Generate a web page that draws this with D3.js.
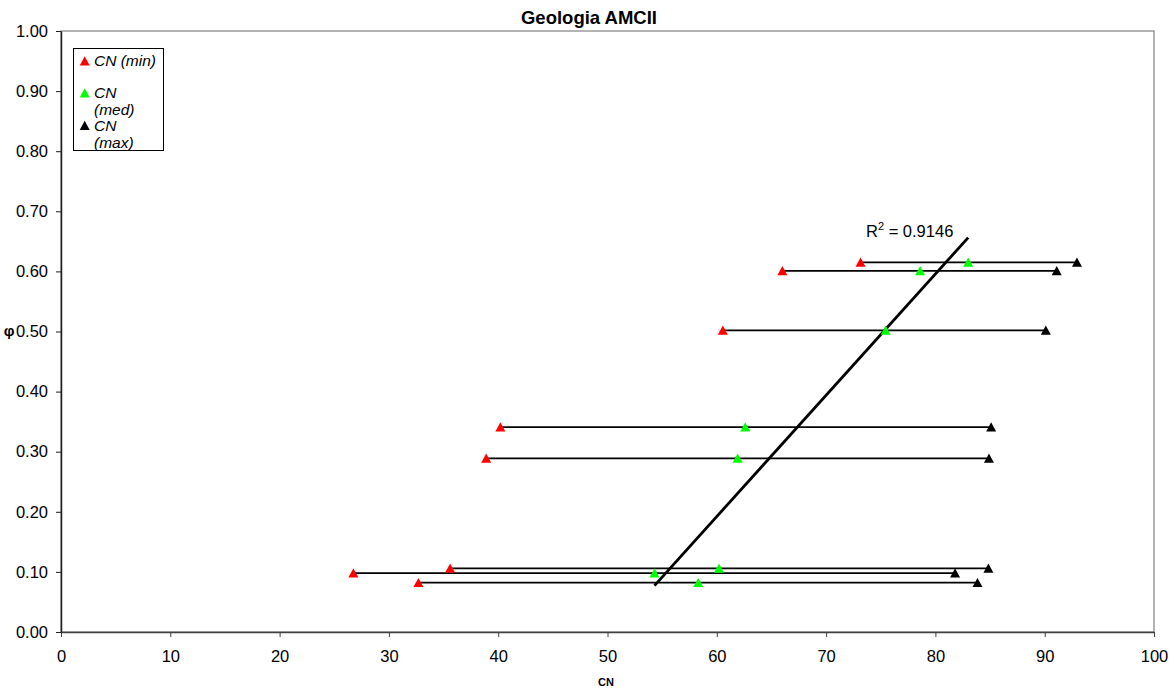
<!DOCTYPE html>
<html lang="en">
<head>
<meta charset="UTF-8">
<title>Geologia AMCII</title>
<script src="https://cdn.jsdelivr.net/npm/d3@7"></script>
<style>
  body { margin: 0; background: #fff; }
  svg { width: 1175px; height: 693px; font-family: "Liberation Sans", Arial, sans-serif; }
</style>
</head>
<body>
<svg></svg>
<script>
// data
var phi    = [0.615, 0.601, 0.502, 0.341, 0.289, 0.106, 0.098, 0.082];
var cnMin  = [73.15, 66.0, 60.55, 40.2, 38.9, 35.6, 26.75, 32.7];
var cnMed  = [83.0, 78.6, 75.45, 62.6, 61.9, 60.2, 54.3, 58.3];
var cnMax  = [92.95, 91.1, 90.1, 85.1, 84.9, 84.85, 81.8, 83.85];
var xTicks = d3.range(0, 101, 10);
var yTicks = d3.range(0, 1.001, 0.1);
var r2Label = "0.9146";

var svg = d3.select("svg");
var plot = { left: 61, right: 1154, top: 31, bottom: 632 };

var x = d3.scaleLinear().domain([0, 100]).range([plot.left, plot.right]);
var y = d3.scaleLinear().domain([0, 1]).range([plot.bottom, plot.top]);

// plot border
svg.append("rect")
  .attr("x", plot.left).attr("y", plot.top)
  .attr("width", plot.right - plot.left).attr("height", plot.bottom - plot.top)
  .attr("fill", "none").attr("stroke", "#808080").attr("stroke-width", 1.2);

// axes
var xAxis = svg.append("g")
  .attr("transform", "translate(0," + plot.bottom + ")")
  .call(d3.axisBottom(x).tickValues(xTicks).tickSizeOuter(0).tickSizeInner(5).tickPadding(13));
var yAxis = svg.append("g")
  .attr("transform", "translate(" + plot.left + ",0)")
  .call(d3.axisLeft(y).tickValues(yTicks).tickFormat(d3.format(".2f")).tickSizeOuter(0).tickSizeInner(5).tickPadding(8));

xAxis.select(".domain").attr("stroke", "#404040").attr("stroke-width", 1.5);
xAxis.selectAll(".tick line").attr("stroke", "#404040");
yAxis.select(".domain").attr("stroke", "#202020").attr("stroke-width", 1.5);
yAxis.selectAll(".tick line").attr("stroke", "#202020");
svg.selectAll(".tick text")
  .attr("font-family", "Liberation Sans, Arial, sans-serif")
  .attr("font-size", 16.5).attr("fill", "#000");

// horizontal range lines min..max
svg.append("g").selectAll("line")
  .data(phi)
  .enter()
  .append("line")
  .attr("x1", function(d, i) { return x(cnMin[i]); })
  .attr("x2", function(d, i) { return x(cnMax[i]); })
  .attr("y1", function(d) { return y(d); })
  .attr("y2", function(d) { return y(d); })
  .attr("stroke", "#000").attr("stroke-width", 1.7);

// linear trendline on the med series (least squares)
var mx = d3.mean(cnMed), my = d3.mean(phi);
var sxy = d3.sum(cnMed, function(v, i) { return (v - mx) * (phi[i] - my); });
var sxx = d3.sum(cnMed, function(v) { return (v - mx) * (v - mx); });
var slope = sxy / sxx, icpt = my - slope * mx;
var trendX = d3.extent(cnMed);
svg.append("line")
  .attr("x1", x(trendX[0])).attr("y1", y(slope * trendX[0] + icpt))
  .attr("x2", x(trendX[1])).attr("y2", y(slope * trendX[1] + icpt))
  .attr("stroke", "#000").attr("stroke-width", 2.8);

// markers: Excel-like triangle, 10 wide x 9 tall, centred on the point
var triType = {
  draw: function(ctx) {
    ctx.moveTo(0, -4.8);
    ctx.lineTo(5, 4.4);
    ctx.lineTo(-5, 4.4);
    ctx.closePath();
  }
};
var tri = d3.symbol().type(triType);
var series = [
  { vals: cnMin, color: "#ff0000" },
  { vals: cnMed, color: "#00ff00" },
  { vals: cnMax, color: "#000000" }
];
series.forEach(function(s) {
  svg.append("g").selectAll("path")
    .data(phi)
    .enter()
    .append("path")
    .attr("d", tri)
    .attr("transform", function(d, i) {
      return "translate(" + x(s.vals[i]) + "," + y(d) + ")";
    })
    .attr("fill", s.color);
});

// R² label
var r2 = svg.append("text")
  .attr("x", 866).attr("y", 237)
  .attr("font-size", 16.5).attr("fill", "#000");
r2.append("tspan").text("R");
r2.append("tspan").attr("dy", -7).attr("font-size", 11).text("2");
r2.append("tspan").attr("dy", 7).text(" = " + r2Label);

// title and axis labels
svg.append("text")
  .attr("x", 589).attr("y", 24).attr("text-anchor", "middle")
  .attr("font-size", 18.5).attr("font-weight", "bold")
  .text("Geologia AMCII");
svg.append("text")
  .attr("x", 9).attr("y", 336).attr("text-anchor", "middle")
  .attr("font-size", 15).attr("font-weight", "bold")
  .text("φ");
svg.append("text")
  .attr("x", 606).attr("y", 686).attr("text-anchor", "middle")
  .attr("font-size", 11).attr("font-weight", "bold")
  .text("CN");

// legend
var lg = svg.append("g");
lg.append("rect")
  .attr("x", 73.5).attr("y", 48.5).attr("width", 90).attr("height", 102)
  .attr("fill", "#fff").attr("stroke", "#000").attr("stroke-width", 1);
var legendItems = [
  { lines: ["CN (min)"], color: "#ff0000", y: 61 },
  { lines: ["CN", "(med)"], color: "#00ff00", y: 93 },
  { lines: ["CN", "(max)"], color: "#000000", y: 125.5 }
];
legendItems.forEach(function(it) {
  lg.append("path").attr("d", tri)
    .attr("transform", "translate(84.7," + it.y + ")")
    .attr("fill", it.color);
  it.lines.forEach(function(t, j) {
    lg.append("text")
      .attr("x", 94).attr("y", it.y + 5 + j * 17)
      .attr("font-size", 15.5).attr("font-style", "italic")
      .text(t);
  });
});
</script>
</body>
</html>
